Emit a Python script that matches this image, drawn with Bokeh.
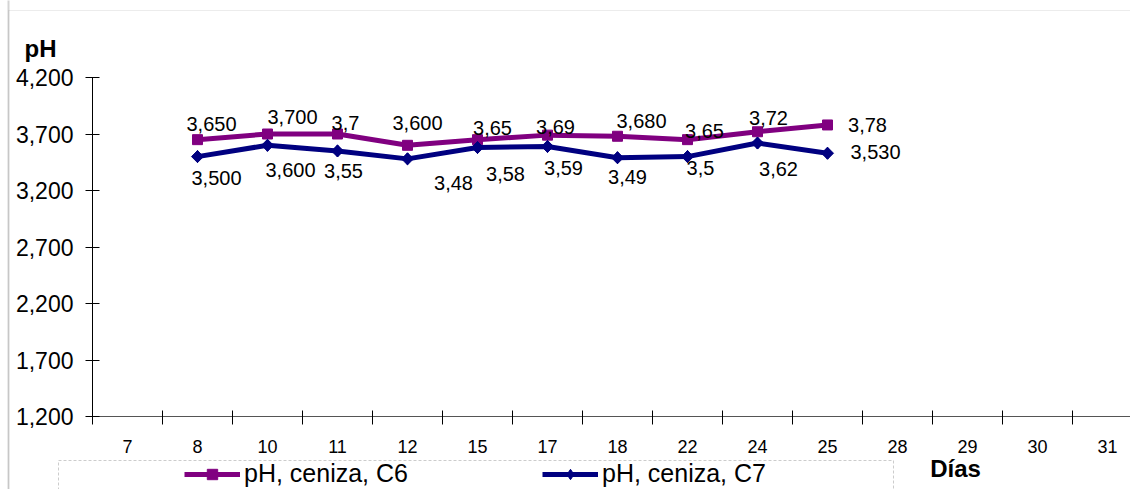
from bokeh.plotting import figure
from bokeh.models import (Range1d, LinearAxis, FixedTicker, NumeralTickFormatter,
                          CustomJSTickFormatter, ColumnDataSource, Legend, LegendItem,
                          BoxAnnotation, Label)
from bokeh.core.properties import value
from bokeh.embed import file_html
from bokeh.resources import INLINE

# ---------------- data ----------------
categories = ["7", "8", "10", "11", "12", "15", "17", "18", "22", "24", "25", "28", "29", "30", "31"]
days = ["8", "10", "11", "12", "15", "17", "18", "22", "24", "25"]
ph_c6 = [3650, 3700, 3700, 3600, 3650, 3690, 3680, 3650, 3720, 3780]
ph_c7 = [3500, 3600, 3550, 3480, 3580, 3590, 3490, 3500, 3620, 3530]
labels_c6 = ["3,650", "3,700", "3,7", "3,600", "3,65", "3,69", "3,680", "3,65", "3,72", "3,78"]
labels_c7 = ["3,500", "3,600", "3,55", "3,48", "3,58", "3,59", "3,49", "3,5", "3,62", "3,530"]
y_ticks = [1200, 1700, 2200, 2700, 3200, 3700, 4200]
series_names = ["pH, ceniza, C6", "pH, ceniza, C7"]

# ---------------- label placement (screen px offsets) ----------------
c6_dx = [14, 25, 8, 10, 15, 8, 24, 17, 11, 40]
c6_dy = [-16, -17, -11, -22, -12, -8, -15, -9, -14, 0]
c7_dx = [19, 23, 6, 46, 28, 16, 10, 13, 21, 48]
c7_dy = [21, 25, 20, 24, 26, 22, 19, 11, 26, -1]

FONT = "Liberation Sans"
C6_COLOR = "#800080"
C7_COLOR = "#000080"

# ---------------- geometry of the plot area inside the canvas ----------------
W, H = 1130, 489
AX_X, AX_TOP, AX_BOTTOM = 92, 77, 416      # pixel position of y-axis, top/bottom of value axis
CAT_W = 70                                 # px per category slot
Y_MIN, Y_MAX = 1200, 4200
PX_PER_UNIT = (AX_BOTTOM - AX_TOP) / (Y_MAX - Y_MIN)

x_start = -AX_X / CAT_W
x_end = (W - AX_X) / CAT_W
y_end = Y_MAX + AX_TOP / PX_PER_UNIT
y_start = Y_MIN - (H - AX_BOTTOM) / PX_PER_UNIT

p = figure(width=W, height=H, output_backend="svg", toolbar_location=None,
           x_range=Range1d(x_start, x_end), y_range=Range1d(y_start, y_end),
           x_axis_type=None, y_axis_type=None,
           min_border_left=0, min_border_right=0, min_border_top=0, min_border_bottom=0)
p.outline_line_color = None
p.background_fill_color = "white"
p.border_fill_color = "white"

# y axis (placed at the first slot boundary)
yaxis = LinearAxis(ticker=FixedTicker(ticks=y_ticks, minor_ticks=[]),
                   formatter=NumeralTickFormatter(format="0,0"),
                   fixed_location=0, bounds=(Y_MIN, Y_MAX))
yaxis.axis_line_color = "black"
yaxis.axis_line_width = 1
yaxis.major_tick_in = 7
yaxis.major_tick_out = 7
yaxis.major_tick_line_color = "black"
yaxis.minor_tick_line_color = None
yaxis.major_label_text_font = FONT
yaxis.major_label_text_font_size = "23px"
yaxis.major_label_text_color = "black"
yaxis.major_label_standoff = 12
p.add_layout(yaxis, "left")

# x axis (categories as slots, tick marks at slot boundaries)
centers = [i + 0.5 for i in range(len(categories))]
bounds = list(range(len(categories) + 1))
xaxis = LinearAxis(ticker=FixedTicker(ticks=centers, minor_ticks=bounds),
                   formatter=CustomJSTickFormatter(args=dict(cats=categories),
                                                   code="return cats[Math.floor(tick)];"),
                   fixed_location=Y_MIN, bounds=(0, len(categories)))
xaxis.axis_line_color = "#555555"
xaxis.major_tick_in = 0
xaxis.major_tick_out = 0
xaxis.major_tick_line_color = None
xaxis.minor_tick_in = 6
xaxis.minor_tick_out = 8
xaxis.minor_tick_line_color = "black"
xaxis.major_label_text_font = FONT
xaxis.major_label_text_font_size = "18px"
xaxis.major_label_text_color = "black"
xaxis.major_label_standoff = 15
p.add_layout(xaxis, "below")

# series
x_idx = [categories.index(d) + 0.5 for d in days]
src6 = ColumnDataSource(dict(x=x_idx, y=ph_c6, lab=labels_c6, dx=c6_dx, dy=c6_dy))
src7 = ColumnDataSource(dict(x=x_idx, y=ph_c7, lab=labels_c7, dx=c7_dx, dy=c7_dy))

l6 = p.line("x", "y", source=src6, line_color=C6_COLOR, line_width=5)
s6 = p.scatter("x", "y", source=src6, marker="square", size=10,
               fill_color=C6_COLOR, line_color=C6_COLOR)
l7 = p.line("x", "y", source=src7, line_color=C7_COLOR, line_width=5)
# diamond symbol (also provides the legend swatch), covered by the rotated squares
s7_key = p.scatter("x", "y", source=src7, marker="diamond", size=12,
                   fill_color=C7_COLOR, line_color=C7_COLOR)
s7 = p.scatter("x", "y", source=src7, marker="square", size=8.5, angle=0.785398,
               fill_color=C7_COLOR, line_color=C7_COLOR)

for src in (src6, src7):
    p.text("x", "y", text="lab", source=src, x_offset="dx", y_offset="dy",
           text_align="center", text_baseline="middle",
           text_font=value(FONT), text_font_size=value("20px"), text_color="black")

# chart-area border (left & top)
p.add_layout(BoxAnnotation(left=8, right=5000, top=10, bottom=5000,
                           left_units="canvas", right_units="canvas",
                           top_units="canvas", bottom_units="canvas",
                           fill_color=None, fill_alpha=0, line_color="#c0c0c0", line_width=1))
p.add_layout(BoxAnnotation(left=8, right=5000, top=-100, bottom=5000,
                           left_units="canvas", right_units="canvas",
                           top_units="canvas", bottom_units="canvas",
                           fill_color=None, fill_alpha=0, line_color="#707070", line_width=2))
# legend dashed box
p.add_layout(BoxAnnotation(left=58, right=893, top=460, bottom=5000,
                           left_units="canvas", right_units="canvas",
                           top_units="canvas", bottom_units="canvas",
                           fill_color=None, fill_alpha=0, line_color="#555555",
                           line_width=1, line_dash="3 2"))

legend = Legend(items=[LegendItem(label=value(series_names[0]), renderers=[l6, s6]),
                       LegendItem(label=value(series_names[1]), renderers=[l7, s7_key])],
                orientation="horizontal", location=(184, 1),
                border_line_color=None, background_fill_alpha=0,
                padding=0, margin=0, spacing=98,
                glyph_width=56, glyph_height=26, label_width=200, label_height=20,
                label_standoff=4, label_text_font=FONT, label_text_font_size="25px",
                label_text_color="black")
p.add_layout(legend, "center")

# axis titles
p.add_layout(Label(x=(40 - AX_X) / CAT_W, y=Y_MAX + (AX_TOP - 48) / PX_PER_UNIT, text="pH",
                   text_font=FONT, text_font_size="24px", text_font_style="bold",
                   text_align="center", text_baseline="middle", text_color="black"))
p.add_layout(Label(x=(955 - AX_X) / CAT_W, y=Y_MIN - (468 - AX_BOTTOM) / PX_PER_UNIT, text="Días",
                   text_font=FONT, text_font_size="24px", text_font_style="bold",
                   text_align="center", text_baseline="middle", text_color="black"))

open("out.html", "w").write(file_html(p, INLINE))
